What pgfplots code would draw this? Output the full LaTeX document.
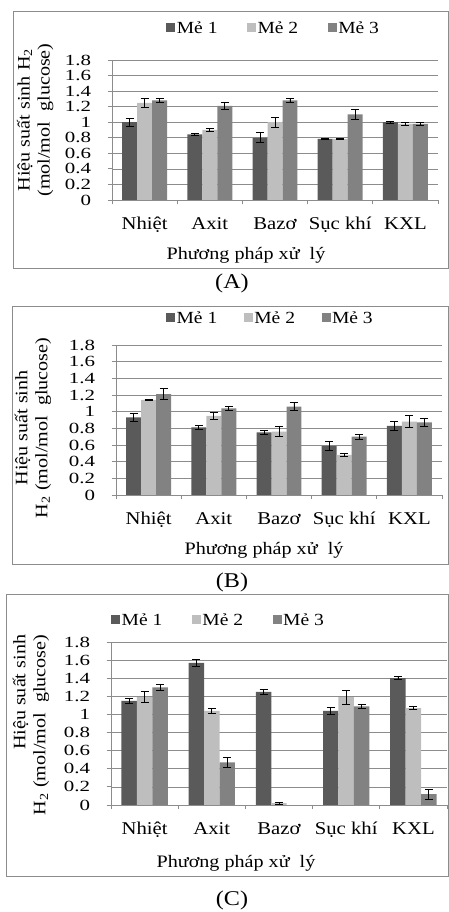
\documentclass[border=0pt]{standalone}
\usepackage{pgfplots}
\pgfplotsset{compat=1.18}
\usepackage{pgfplotstable}
\usepackage{fontspec}
\setmainfont[FakeStretch=1.15]{Liberation Serif}
\newfontfamily\tickfont[FakeStretch=1.35]{Liberation Serif}

\definecolor{meA}{HTML}{5A5A5A}
\definecolor{meB}{HTML}{BEBEBE}
\definecolor{meC}{HTML}{828282}
\definecolor{axgray}{HTML}{8C8C8C}

\pgfplotstableread{
x m1 e1 m2 e2 m3 e3
0 1.00 0.050 1.25 0.055 1.28 0.020
1 0.845 0.015 0.90 0.015 1.21 0.040
2 0.80 0.065 1.00 0.065 1.28 0.025
3 0.785 0.005 0.785 0.005 1.10 0.065
4 1.00 0.015 0.98 0.020 0.98 0.020
}\dataA

\pgfplotstableread{
x m1 e1 m2 e2 m3 e3
0 0.93 0.050 1.14 0.006 1.21 0.065
1 0.81 0.025 0.95 0.040 1.04 0.025
2 0.75 0.020 0.76 0.060 1.06 0.045
3 0.59 0.050 0.48 0.020 0.70 0.030
4 0.83 0.055 0.88 0.075 0.87 0.050
}\dataB

\pgfplotstableread{
x m1 e1 m2 e2 m3 e3
0 1.15 0.030 1.19 0.060 1.30 0.035
1 1.57 0.040 1.04 0.030 0.47 0.055
2 1.25 0.030 0.02 0.012 nan nan
3 1.04 0.040 1.19 0.075 1.09 0.020
4 1.40 0.015 1.07 0.015 0.12 0.055
}\dataC

\pgfplotsset{
  errbar/.style={error bars/.cd, y dir=both, y explicit,
    error bar style={black, line width=0.9bp},
    error mark options={rotate=90, mark size=4bp, line width=0.9bp, black}},
  panel/.style={
    scale only axis,
    ybar,
    bar width=0.23,
    ymin=0, ymax=1.8,
    ytick={0,0.2,0.4,0.6,0.8,1,1.2,1.4,1.6,1.8},
    xmin=-0.5, xmax=4.5,
    xtick={-0.5,0.5,1.5,2.5,3.5,4.5},
    x tick label as interval,
    xticklabels={Nhiệt,Axit,Bazơ,Sục khí,KXL},
    axis x line*=bottom, axis y line*=left,
    axis line style={draw=axgray, line width=0.8bp, -},
    ymajorgrids, grid style={draw=axgray, line width=0.7bp},
    tick align=outside, major tick length=4.5bp,
    tick style={draw=axgray, line width=0.8bp},
    /pgf/number format/assume math mode=true,
    /pgf/number format/fixed,
    yticklabel style={font=\tickfont\fontsize{15.5bp}{16bp}\selectfont, xshift=-13bp},
    xticklabel style={font=\fontsize{18bp}{20bp}\selectfont, text height=12bp, text depth=4bp, yshift=-9bp},
    xlabel style={font=\fontsize{17.5bp}{20bp}\selectfont, anchor=center},
    ylabel style={font=\fontsize{17.5bp}{20bp}\selectfont, anchor=center},
    legend style={draw=none, fill=none, font=\fontsize{17bp}{18bp}\selectfont, anchor=west,
      inner xsep=0pt, nodes={inner xsep=1.5bp}},
    legend columns=3,
    legend cell align=left,
    legend image code/.code={\fill[##1] (0bp,-4.5bp) rectangle (9bp,4.5bp);},
  }
}

\begin{document}
\begin{tikzpicture}[x=1bp,y=1bp]
\useasboundingbox (0,0) rectangle (449,912);
% frames
\draw[axgray, line width=1bp] (13,643) rectangle (448,900);
\draw[axgray, line width=1bp] (12,347) rectangle (448,605);
\draw[axgray, line width=1bp] (6,35) rectangle (448.5,317);

% ---------- Panel A ----------
\begin{axis}[panel, at={(112bp,712bp)}, anchor=south west, width=326bp, height=140bp,
  xlabel={Phương pháp xử\ \ lý},
  xlabel style={at={(axis description cs:0.411,0)}, yshift=-55bp},
  ylabel={Hiệu suất sinh H\textsubscript{2}\\(mol/mol\ \ glucose)},
  ylabel style={at={(axis description cs:-0.236,0.571)}, align=center},
  legend style={at={(axis description cs:0.166,1.229)}},
]
\addplot[fill=meA, draw=none, bar shift=-0.23, errbar] table[x=x, y=m1, y error=e1] {\dataA};
\addplot[fill=meB, draw=none, bar shift=0, errbar] table[x=x, y=m2, y error=e2] {\dataA};
\addplot[fill=meC, draw=none, bar shift=0.23, errbar] table[x=x, y=m3, y error=e3] {\dataA};
\legend{Mẻ 1\hspace*{28bp}, Mẻ 2\hspace*{28bp}, Mẻ 3}
\end{axis}

% ---------- Panel B ----------
\begin{axis}[panel, at={(116bp,417bp)}, anchor=south west, width=326bp, height=150bp,
  xlabel={Phương pháp xử\ \ lý},
  xlabel style={at={(axis description cs:0.454,0)}, yshift=-55bp},
  ylabel={Hiệu suất sinh\\H\textsubscript{2} (mol/mol\ \ glucose)},
  ylabel style={at={(axis description cs:-0.255,0.447)}, align=center},
  legend style={at={(axis description cs:0.153,1.18)}},
]
\addplot[fill=meA, draw=none, bar shift=-0.23, errbar] table[x=x, y=m1, y error=e1] {\dataB};
\addplot[fill=meB, draw=none, bar shift=0, errbar] table[x=x, y=m2, y error=e2] {\dataB};
\addplot[fill=meC, draw=none, bar shift=0.23, errbar] table[x=x, y=m3, y error=e3] {\dataB};
\legend{Mẻ 1\hspace*{25bp}, Mẻ 2\hspace*{25bp}, Mẻ 3}
\end{axis}

% ---------- Panel C ----------
\begin{axis}[panel, at={(111bp,107bp)}, anchor=south west, width=336bp, height=163bp,
  xlabel={Phương pháp xử\ \ lý},
  xlabel style={at={(axis description cs:0.372,0)}, yshift=-58bp},
  ylabel={Hiệu suất sinh\\H\textsubscript{2} (mol/mol\ \ glucose)},
  ylabel style={at={(axis description cs:-0.238,0.491)}, align=right},
  legend style={at={(axis description cs:0.0,1.135)}},
]
\addplot[fill=meA, draw=none, bar shift=-0.23, errbar] table[x=x, y=m1, y error=e1] {\dataC};
\addplot[fill=meB, draw=none, bar shift=0, errbar] table[x=x, y=m2, y error=e2] {\dataC};
\addplot[fill=meC, draw=none, bar shift=0.23, errbar] table[x=x, y=m3, y error=e3] {\dataC};
\legend{Mẻ 1\hspace*{28bp}, Mẻ 2\hspace*{28bp}, Mẻ 3}
\end{axis}

\node[font=\fontsize{21bp}{24bp}\selectfont] at (232,629) {(A)};
\node[font=\fontsize{21bp}{24bp}\selectfont] at (232,330) {(B)};
\node[font=\fontsize{21bp}{24bp}\selectfont] at (232,12) {(C)};
\end{tikzpicture}
\end{document}
